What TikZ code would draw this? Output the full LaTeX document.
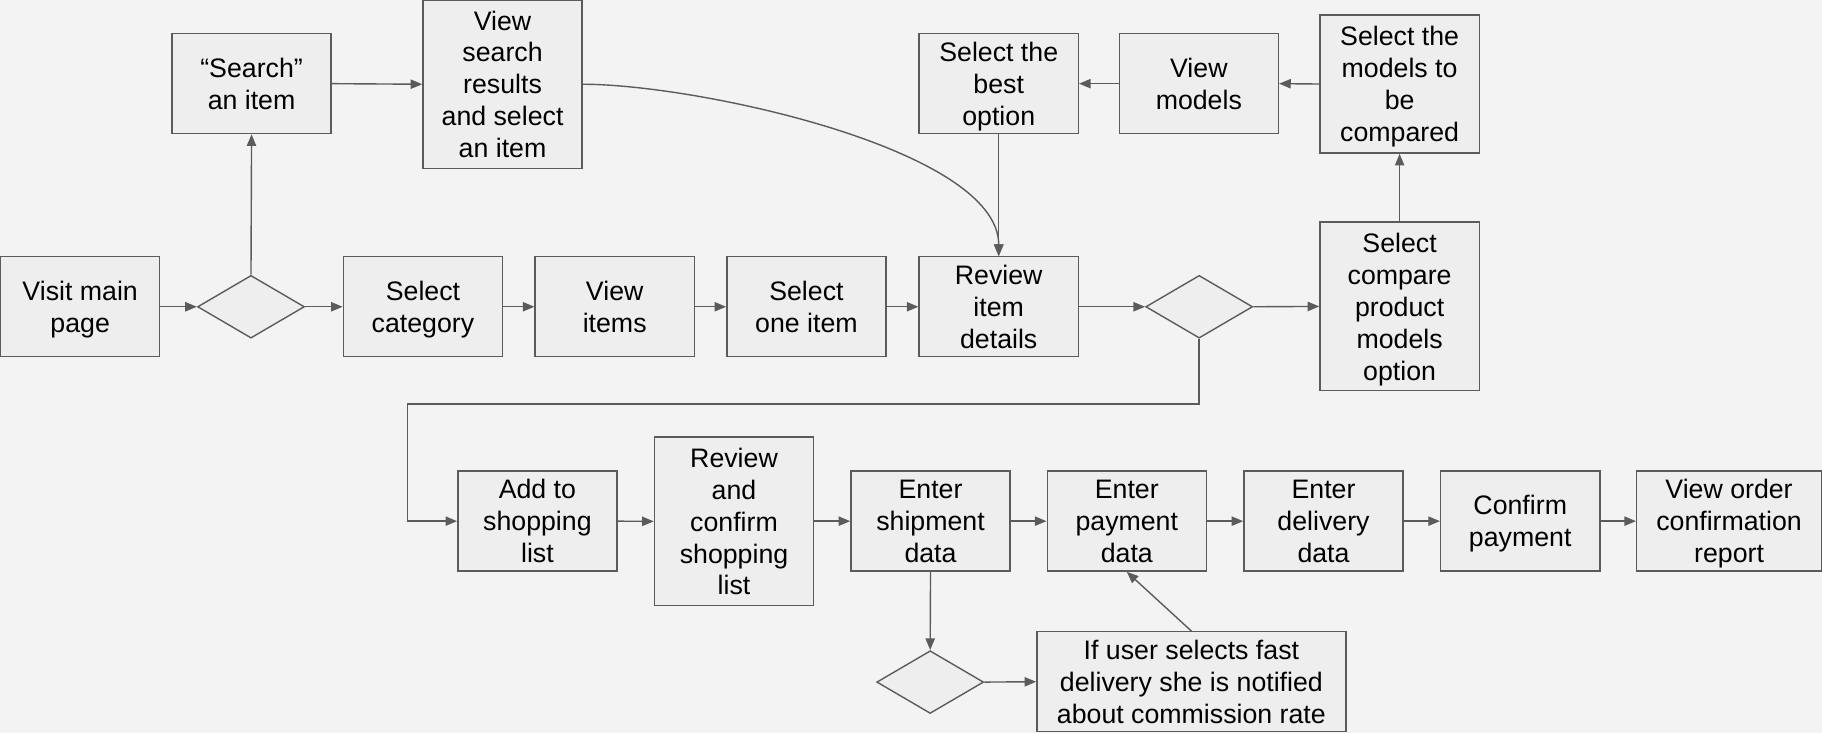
\documentclass[tikz,border=0pt]{standalone}
\usepackage{fontspec}
\setmainfont{Liberation Sans}
\usetikzlibrary{shapes.geometric,arrows.meta}

\definecolor{bgc}{HTML}{F3F3F3}
\definecolor{boxc}{HTML}{EEEEEE}
\definecolor{linec}{HTML}{5B5B5B}

\tikzset{
  stepbox/.style={draw=linec, fill=boxc, line width=1.2pt, rectangle,
    align=center, inner sep=0pt, minimum width=137pt, minimum height=86pt,
    text depth=0pt, font=\fontsize{23}{27.5}\selectfont, text=black},
  tallbox/.style={stepbox, minimum height=145pt},
  choice/.style={draw=linec, fill=boxc, line width=1.2pt, diamond,
    inner sep=0pt, minimum width=92pt, minimum height=54pt},
  arr/.style={draw=linec, line width=1.2pt,
    -{Triangle[length=10pt,width=8pt]}},
}

\begin{document}
\begin{tikzpicture}[x=1pt, y=-1pt]
  % canvas
  \fill[bgc] (0,0) rectangle (1568,631);
  \useasboundingbox (0,0) rectangle (1568,631);

  % main browsing row
  \node[stepbox] (visit) at (69,264) {Visit main\\page};
  \node[choice]  (d1)    at (216,264) {};
  \node[stepbox] (cat)   at (364,264) {Select\\category};
  \node[stepbox] (items) at (529,264) {View\\items};
  \node[stepbox] (one)   at (694,264) {Select\\one item};
  \node[stepbox] (rid)   at (859.5,264) {Review\\item\\details};
  \node[choice]  (d2)    at (1032,264) {};
  \node[tallbox] (cmp)   at (1204.5,263.7) {Select\\compare\\product\\models\\option};

  % search and comparison branch
  \node[stepbox] (search) at (216.5,72) {“Search”\\an item};
  \node[tallbox] (vsr)    at (432.5,72.5) {View\\search\\results\\and select\\an item};
  \node[stepbox] (best)   at (859.5,72) {Select the\\best\\option};
  \node[stepbox] (vm)     at (1031.7,72) {View\\models};
  \node[stepbox, minimum height=119pt] (sel) at (1204.5,72.3) {Select the\\models to\\be\\compared};

  % checkout row
  \node[stepbox] (add)  at (462.5,448.5) {Add to\\shopping\\list};
  \node[tallbox] (rcs)  at (631.7,448.7) {Review\\and\\confirm\\shopping\\list};
  \node[stepbox] (ship) at (800.8,448.5) {Enter\\shipment\\data};
  \node[stepbox] (pay)  at (969.7,448.5) {Enter\\payment\\data};
  \node[stepbox] (del)  at (1139,448.5) {Enter\\delivery\\data};
  \node[stepbox] (conf) at (1308.3,448.5) {Confirm\\payment};
  \node[stepbox, minimum width=159pt] (vor) at (1488,448.5) {View order\\confirmation\\report};

  % fast delivery note
  \node[choice]  (d3)   at (800.5,587) {};
  \node[stepbox, minimum width=266pt, minimum height=86pt] (note) at (1025.3,586.7)
    {If user selects fast\\delivery she is notified\\about commission rate};

  \coordinate (loop) at (350.7,347.7);

  % connectors
  \draw[arr] (visit.east) -- (d1.west);
  \draw[arr] (d1.east) -- (cat.west);
  \draw[arr] (d1.north) -- (search.south);
  \draw[arr] (search.east) -- (vsr.west);
  \draw[arr] (vsr.east) .. controls +(98,0) and +(0,-92) .. (rid.north);
  \draw[arr] (cat.east) -- (items.west);
  \draw[arr] (items.east) -- (one.west);
  \draw[arr] (one.east) -- (rid.west);
  \draw[arr] (rid.east) -- (d2.west);
  \draw[arr] (d2.east) -- (cmp.west);
  \draw[arr] (cmp.north) -- (sel.south);
  \draw[arr] (sel.west) -- (vm.east);
  \draw[arr] (vm.west) -- (best.east);
  \draw[arr] (best.south) -- (rid.north);
  \draw[arr] (d2.south) -- (d2.south |- loop) -- (loop) |- (add.west);
  \draw[arr] (add.east) -- (rcs.west);
  \draw[arr] (rcs.east |- ship.west) -- (ship.west);
  \draw[arr] (ship.east) -- (pay.west);
  \draw[arr] (pay.east) -- (del.west);
  \draw[arr] (del.east) -- (conf.west);
  \draw[arr] (conf.east) -- (vor.west);
  \draw[arr] (ship.south) -- (d3.north);
  \draw[arr] (d3.east) -- (note.west);
  \draw[arr] (note.north) -- (pay.south);
\end{tikzpicture}
\end{document}
